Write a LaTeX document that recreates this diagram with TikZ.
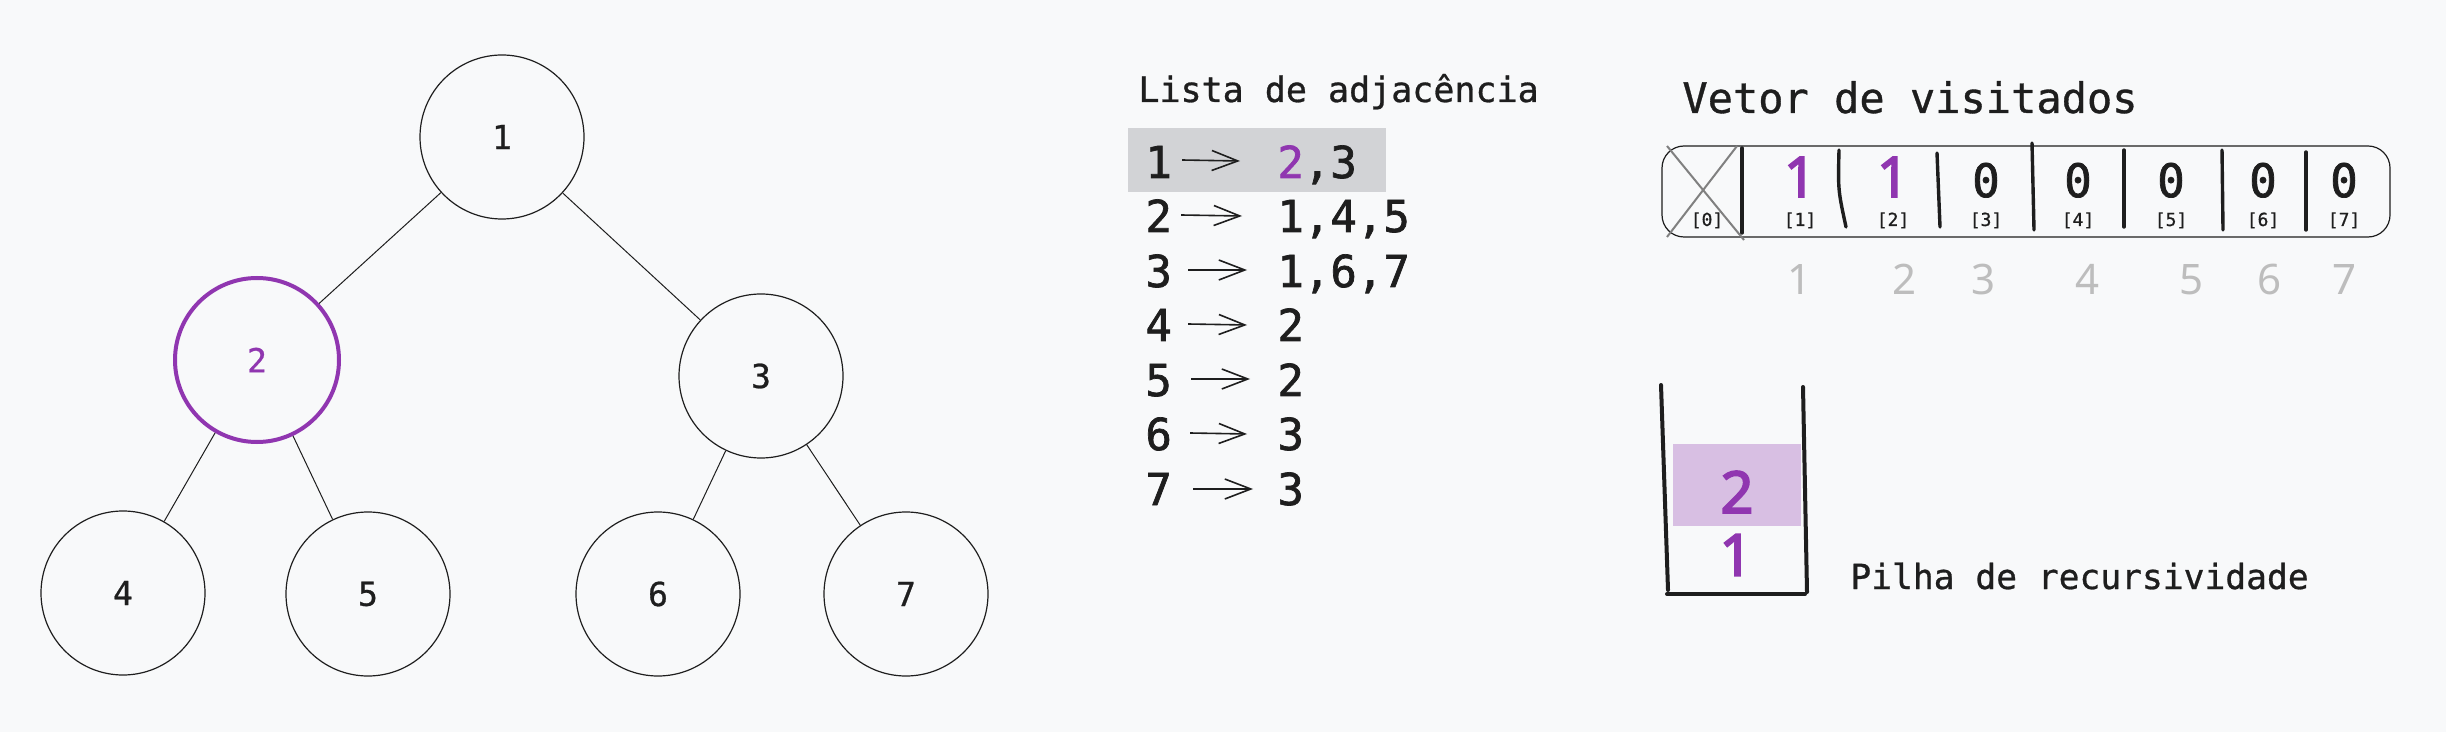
\documentclass[tikz,border=0pt]{standalone}
\usepackage{fontspec}
\usetikzlibrary{arrows.meta}
\newfontfamily\monof[FakeBold=0.8]{DejaVu Sans Mono}
\newfontfamily\monob[FakeBold=1.6]{DejaVu Sans Mono}
\newfontfamily\sansf{Noto Sans}
\newfontfamily\sansb[FakeBold=3]{Noto Sans}
\definecolor{bg}{HTML}{F8F9FA}
\definecolor{ink}{HTML}{1E1E1E}
\definecolor{purp}{HTML}{9036B0}
\definecolor{hl}{HTML}{D2D3D6}
\definecolor{lpurp}{HTML}{D8BFE3}
\definecolor{lgray}{HTML}{BDBDBD}
\definecolor{xgray}{HTML}{808080}
\tikzset{
  treenode/.style={circle, draw=ink, line width=0.6pt, minimum size=82pt, inner sep=0pt, text=ink, font=\monof\fontsize{16.5}{18}\selectfont},
  visitednode/.style={treenode, draw=purp, line width=2pt, text=purp},
  edge/.style={draw=ink, line width=0.5pt},
  title/.style={anchor=base west, inner sep=0pt, text=ink},
  listtxt/.style={anchor=base west, inner sep=0pt, text=ink, font=\monob\fontsize{22}{24}\selectfont},
  listarrow/.style={draw=ink, line width=0.8pt, -{Straight Barb[length=13pt, width=10pt, line width=0.8pt]}},
  cellval/.style={anchor=base, inner sep=0pt, text=ink, font=\monob\fontsize{23}{25}\selectfont},
  cellone/.style={anchor=base, inner sep=0pt, text=purp, font=\sansb\fontsize{28}{30}\selectfont},
  cellidx/.style={anchor=base, inner sep=0pt, text=ink, font=\monof\fontsize{9}{10}\selectfont},
  grayidx/.style={anchor=base, inner sep=0pt, text=lgray, font=\sansf\fontsize{21}{23}\selectfont},
  divider/.style={draw=ink, line width=1.7pt, line cap=round},
  stackwall/.style={draw=ink, line width=2pt, line cap=round},
  stackval/.style={inner sep=0pt, text=purp, font=\sansb\fontsize{29}{31}\selectfont},
}
\begin{document}
\begin{tikzpicture}[x=0.5pt, y=-0.5pt]
\fill[bg] (0,0) rectangle (2446,732);
\useasboundingbox (0,0) rectangle (2446,732);

% ---------------- tree ----------------
\node[treenode] (n1) at (502,137) {1};
\node[visitednode] (n2) at (257,360) {2};
\node[treenode] (n3) at (761,376) {3};
\node[treenode] (n4) at (123,593) {4};
\node[treenode] (n5) at (368,594) {5};
\node[treenode] (n6) at (658,594) {6};
\node[treenode] (n7) at (906,594) {7};
\draw[edge] (n1) -- (n2);
\draw[edge] (n1) -- (n3);
\draw[edge] (n2) -- (n4);
\draw[edge] (n2) -- (n5);
\draw[edge] (n3) -- (n6);
\draw[edge] (n3) -- (n7);

% ---------------- adjacency list ----------------
\node[title, font=\monof\fontsize{17.5}{20}\selectfont] (ltitle) at (1138,102) {Lista de adjacência};
\fill[hl] (1128,128) rectangle (1386,192);
\node[listtxt] (l1) at (1145,178) {1};
\node[listtxt] (l2) at (1145,232) {2};
\node[listtxt] (l3) at (1145,287) {3};
\node[listtxt] (l4) at (1145,341) {4};
\node[listtxt] (l5) at (1145,396) {5};
\node[listtxt] (l6) at (1145,450) {6};
\node[listtxt] (l7) at (1145,505) {7};
\node[listtxt] (r1) at (1277,178) {{\color{purp}2},3};
\node[listtxt] (r2) at (1277,232) {1,4,5};
\node[listtxt] (r3) at (1277,287) {1,6,7};
\node[listtxt] (r4) at (1277,341) {2};
\node[listtxt] (r5) at (1277,396) {2};
\node[listtxt] (r6) at (1277,450) {3};
\node[listtxt] (r7) at (1277,505) {3};
\coordinate (a1s) at (1182,160); \coordinate (a1e) at (1240,161);
\coordinate (a2s) at (1181,215); \coordinate (a2e) at (1242,216);
\coordinate (a3s) at (1188,270); \coordinate (a3e) at (1247,270);
\coordinate (a4s) at (1188,324); \coordinate (a4e) at (1247,325);
\coordinate (a5s) at (1191,379); \coordinate (a5e) at (1250,379);
\coordinate (a6s) at (1190,433); \coordinate (a6e) at (1247,434);
\coordinate (a7s) at (1193,489); \coordinate (a7e) at (1253,489);
\foreach \i in {1,...,7} { \draw[listarrow] (a\i s) -- (a\i e); }

% ---------------- visited vector ----------------
\node[title, font=\monof\fontsize{21}{23}\selectfont] (vtitle) at (1682,113) {Vetor de visitados};
\draw[ink, line width=0.6pt, rounded corners=11pt] (1662,146) rectangle (2390,237);
\draw[xgray, line width=1pt] (1667,146) -- (1744,240);
\draw[xgray, line width=1pt] (1737,146) -- (1667,237);
\draw[divider] (1742,148) -- (1742,233);
\draw[divider] (1839,150) .. controls (1838,190) .. (1846,227);
\draw[divider] (1937,153) -- (1940,227);
\draw[divider] (2032,143) -- (2034,230);
\draw[divider] (2124,150) -- (2124,227);
\draw[divider] (2222,150) -- (2223,230);
\draw[divider] (2306,152) -- (2306,230);

\node[cellone] (v1) at (1800,197) {1};
\node[cellone] (v2) at (1893,197) {1};
\node[cellval] (v3) at (1986,197) {0};
\node[cellval] (v4) at (2078,197) {0};
\node[cellval] (v5) at (2171,197) {0};
\node[cellval] (v6) at (2263,197) {0};
\node[cellval] (v7) at (2344,197) {0};

\node[cellidx] (i0) at (1707,226) {[0]};
\node[cellidx] (i1) at (1800,226) {[1]};
\node[cellidx] (i2) at (1893,226) {[2]};
\node[cellidx] (i3) at (1986,226) {[3]};
\node[cellidx] (i4) at (2078,226) {[4]};
\node[cellidx] (i5) at (2171,226) {[5]};
\node[cellidx] (i6) at (2263,226) {[6]};
\node[cellidx] (i7) at (2344,226) {[7]};

\node[grayidx] (g1) at (1799,295) {1};
\node[grayidx] (g2) at (1904,295) {2};
\node[grayidx] (g3) at (1983,295) {3};
\node[grayidx] (g4) at (2087,295) {4};
\node[grayidx] (g5) at (2191,295) {5};
\node[grayidx] (g6) at (2269,295) {6};
\node[grayidx] (g7) at (2344,295) {7};

% ---------------- stack ----------------
\fill[lpurp] (1673,444) rectangle (1801,526);
\draw[stackwall] (1661,385) -- (1668,590);
\draw[stackwall] (1803,387) -- (1807,592);
\draw[stackwall] (1667,594) -- (1805,594);
\node[stackval] (s2) at (1737,492) {2};
\node[stackval] (s1) at (1736,555) {1};
\node[title, font=\monof\fontsize{17.3}{19}\selectfont] (ptitle) at (1850,589) {Pilha de recursividade};
\end{tikzpicture}
\end{document}
